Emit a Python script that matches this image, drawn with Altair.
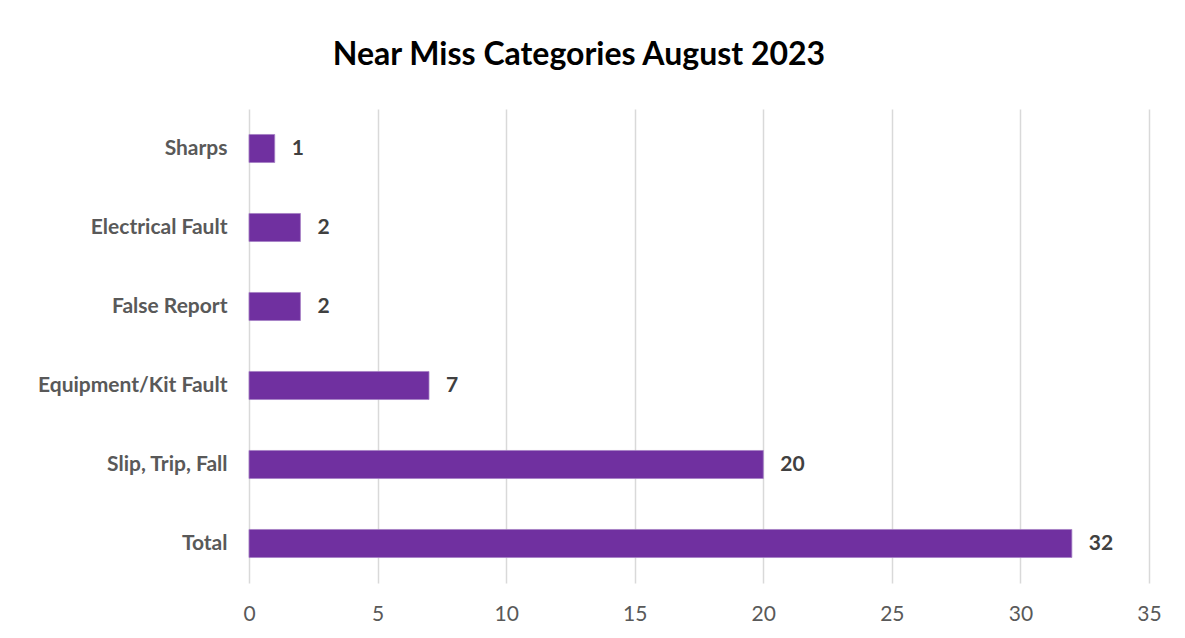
import altair as alt
import pandas as pd

categories = ["Sharps", "Electrical Fault", "False Report", "Equipment/Kit Fault", "Slip, Trip, Fall", "Total"]
counts = [1, 2, 2, 7, 20, 32]
x_ticks = [0, 5, 10, 15, 20, 25, 30, 35]

df = pd.DataFrame({"category": categories, "count": counts})

FONT = "Lato"
BAR = "#7030A0"

y_enc = alt.Y(
    "category:N",
    sort=categories,
    scale=alt.Scale(paddingInner=0.645, paddingOuter=0.3225),
    axis=alt.Axis(
        title=None, domain=False, ticks=False, labelFont=FONT, labelFontSize=21,
        labelFontWeight="bold", labelColor="#595959", labelPadding=22,
        labelLimit=400, minExtent=233, maxExtent=233, grid=False,
    ),
)
x_enc = alt.X(
    "count:Q",
    scale=alt.Scale(domain=[0, 35], nice=False),
    axis=alt.Axis(
        title=None, values=x_ticks, domain=False, ticks=False, labelFont=FONT,
        labelFontSize=21, labelColor="#595959", labelPadding=20, labelFlush=False,
        grid=True, gridColor="#d9d9d9", gridWidth=1.5,
    ),
)

bars = alt.Chart(df).mark_bar(color=BAR, stroke="#a57fc4", strokeWidth=0.8).encode(x=x_enc, y=y_enc)
labels = alt.Chart(df).mark_text(
    align="left", baseline="middle", dx=17, font=FONT, fontSize=21,
    fontWeight="bold", color="#404040",
).encode(x="count:Q", y=alt.Y("category:N", sort=categories), text="count:Q")

chart = (
    alt.layer(bars, labels)
    .properties(
        width=900,
        height=474,
        title=alt.TitleParams(
            "Near Miss Categories August 2023", font=FONT, fontSize=32,
            fontWeight="bold", color="#000000", anchor="middle", offset=37, dx=-120,
        ),
        padding={"left": 8, "top": 31, "right": 10, "bottom": 0},
        background="white",
    )
    .configure_view(stroke=None)
)

chart.save("out.html", embed_options={"renderer": "svg", "actions": False})
